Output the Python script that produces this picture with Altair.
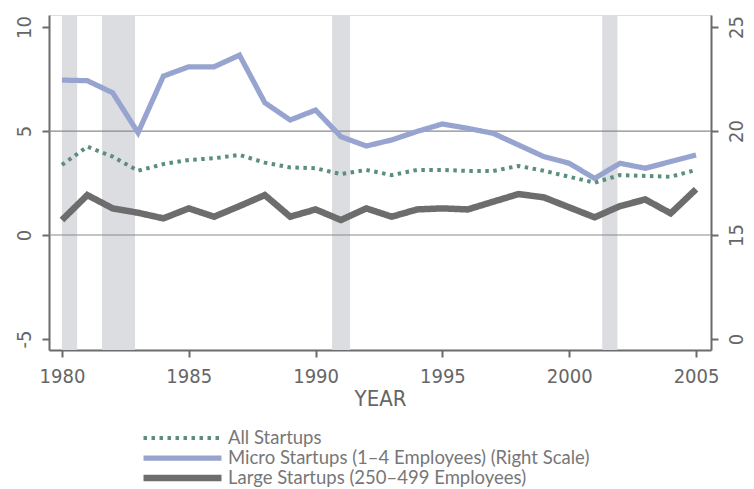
import altair as alt
import pandas as pd

years = list(range(1980, 2006))
all_startups = [3.37, 4.25, 3.77, 3.09, 3.41, 3.61, 3.69, 3.85, 3.48, 3.25, 3.21, 2.93, 3.13,
                2.88, 3.13, 3.13, 3.08, 3.08, 3.32, 3.09, 2.80, 2.52, 2.88, 2.84, 2.80, 3.13]
micro_right = [22.45, 22.42, 21.84, 19.92, 22.64, 23.09, 23.09, 23.65, 21.36, 20.53, 21.01, 19.73, 19.28,
               19.57, 19.98, 20.34, 20.13, 19.89, 19.33, 18.77, 18.45, 17.72, 18.45, 18.21, 18.53, 18.85]
large_startups = [0.72, 1.92, 1.28, 1.07, 0.80, 1.28, 0.88, 1.39, 1.92, 0.88, 1.23, 0.72, 1.28,
                  0.88, 1.23, 1.28, 1.23, 1.60, 1.97, 1.81, 1.33, 0.85, 1.39, 1.71, 1.04, 2.20]

rec_start = [1980.0, 1981.58, 1990.65, 2001.3]
rec_end = [1980.6, 1982.88, 1991.36, 2001.9]
grid_values = [0, 5]

names = ["All Startups", "Micro Startups (1\u20134 Employees) (Right Scale)",
         "Large Startups (250\u2013499 Employees)"]
colors = ["#5b8e7b", "#98a4d0", "#6d6d6e"]
dashes = [[3.5, 4.5], [1, 0], [1, 0]]
widths = [4, 6.5, 4]

df = pd.DataFrame({
    "year": years * 3,
    "value": all_startups + micro_right + large_startups,
    "series": [names[0]] * 26 + [names[1]] * 26 + [names[2]] * 26,
})
left_df = df[df.series != names[1]]
right_df = df[df.series == names[1]]
rec_df = pd.DataFrame({"start": rec_start, "end": rec_end})
grid_df = pd.DataFrame({"v": grid_values})

AX = "#6b6b6b"
TF = "Liberation Sans Narrow, DejaVu Sans Condensed, Roboto Condensed, Roboto, sans-serif"
xdom = [1979.49, 2005.59]
ydom = [-5.53, 10.58]
ydom_r = [ydom[0] + 15, ydom[1] + 15]

xscale = alt.Scale(domain=xdom, nice=False, zero=False)
xaxis = alt.Axis(values=[1980, 1985, 1990, 1995, 2000, 2005], format="d", title="YEAR",
                 grid=False, domainColor=AX, domainWidth=2, tickColor=AX, tickWidth=2, tickSize=7,
                 labelFont=TF, labelFontSize=20, labelColor="#666", labelPadding=9,
                 titleFont=TF, titleFontSize=22, titleColor="#666", titleFontWeight="normal",
                 titlePadding=2)
yscale = alt.Scale(domain=ydom, nice=False, zero=False)
yaxis = alt.Axis(values=[-5, 0, 5, 10], title=None, grid=False, orient="left",
                 labelExpr="datum.value < 0 ? '-' + format(-datum.value, 'd') : datum.label",
                 domainColor=AX, domainWidth=2, tickColor=AX, tickWidth=2, tickSize=7,
                 labelFont=TF, labelFontSize=20, labelColor="#666", labelAngle=270,
                 labelAlign="center", labelBaseline="bottom", labelPadding=8)

series_color = alt.Color("series:N", scale=alt.Scale(domain=names, range=colors),
                         legend=alt.Legend(title=None, orient="none", legendX=91, legendY=413,
                                           symbolType="stroke", symbolSize=6084, clipHeight=20,
                                           labelFont="Lato, Open Sans, sans-serif", labelFontSize=18.5,
                                           labelColor="#777", labelLimit=700, rowPadding=0,
                                           symbolOffset=0, labelOffset=3))
series_dash = alt.StrokeDash("series:N", scale=alt.Scale(domain=names, range=dashes), legend=None)
series_width = alt.StrokeWidth("series:N", scale=alt.Scale(domain=names, range=widths), legend=None)

bands = alt.Chart(rec_df).mark_rect(color="#dcdde0").encode(
    x=alt.X("start:Q", scale=xscale, axis=xaxis), x2="end:Q")

grid = alt.Chart(grid_df).mark_rule(color="#8a8a8a", strokeWidth=1.2).encode(
    y=alt.Y("v:Q", scale=yscale, axis=yaxis))

left_lines = alt.Chart(left_df).mark_line(strokeCap="butt", strokeJoin="miter").encode(
    x=alt.X("year:Q", scale=xscale, axis=xaxis),
    y=alt.Y("value:Q", scale=yscale, axis=yaxis),
    color=series_color, strokeDash=series_dash, strokeWidth=series_width)

left = alt.layer(bands, grid, left_lines)

right_line = alt.Chart(right_df).mark_line(strokeCap="butt", strokeJoin="miter").encode(
    x=alt.X("year:Q", scale=xscale, axis=xaxis),
    y=alt.Y("value:Q", scale=alt.Scale(domain=ydom_r, nice=False, zero=False),
            axis=alt.Axis(values=[10, 15, 20, 25], title=None, grid=False, orient="right",
                          labelExpr="datum.value == 10 ? '0' : datum.label",
                          domainColor=AX, domainWidth=2, tickColor=AX, tickWidth=2, tickSize=7,
                          labelFont=TF, labelFontSize=20, labelColor="#666", labelAngle=270,
                          labelAlign="center", labelBaseline="top", labelPadding=8)),
    color=series_color, strokeDash=series_dash, strokeWidth=series_width)

chart = alt.layer(left, right_line).resolve_scale(y="independent").properties(
    width=662, height=335,
    autosize=alt.AutoSizeParams(type="none"),
    padding={"left": 41, "top": 7, "right": 35, "bottom": 150},
).configure_view(stroke=AX, strokeWidth=1.5).configure(background="white")

chart.save("out.html", embed_options={"renderer": "svg", "actions": False})
